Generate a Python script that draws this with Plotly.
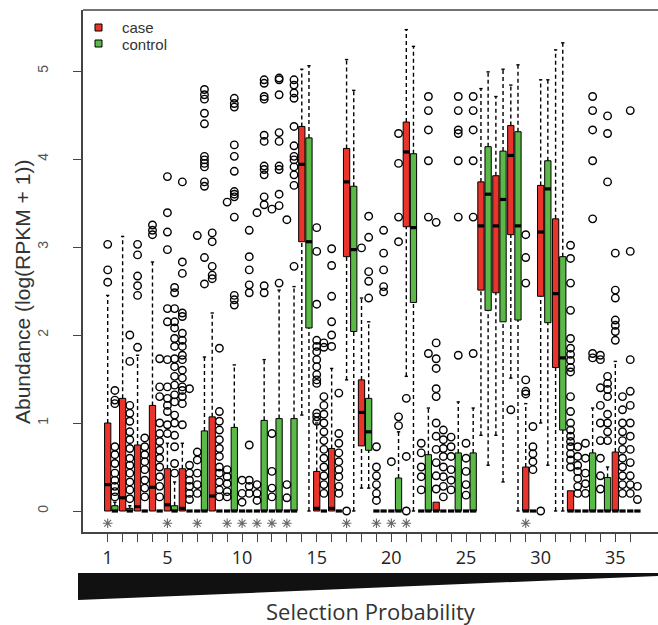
import plotly.graph_objects as go

# ---------------- data ----------------
groups = list(range(1, 37))
tick_labels = {1: "1", 5: "5", 10: "10", 15: "15", 20: "20", 25: "25", 30: "30", 35: "35"}
sig_groups = [1, 5, 7, 9, 10, 11, 12, 13, 17, 19, 20, 21, 29]

case_q1 = [0, 0, 0, 0, 0, 0, 0, 0, 0, 0, 0, 0, 0, 3.06, 0, 0, 2.89, 0.74, 0, 0, 3.23, 0, 0, 0, 0,
           2.51, 2.48, 3.14, 0, 2.44, 1.63, 0, 0, 0, 0, 0]
case_med = [0.30, 0.15, 0.05, 0.27, 0.07, 0.03, 0, 0.17, 0, 0, 0, 0, 0, 3.94, 0.03, 0.03, 3.74, 1.12, 0, 0,
            4.08, 0, 0, 0, 0, 3.24, 3.24, 4.04, 0, 3.17, 2.47, 0, 0, 0, 0, 0]
case_q3 = [1.0, 1.28, 0.75, 1.2, 0.48, 0.48, 0, 1.07, 0, 0, 0, 0, 0, 4.37, 0.45, 0.71, 4.12, 1.49, 0, 0,
           4.42, 0, 0.1, 0, 0, 3.74, 3.81, 4.38, 0.5, 3.7, 3.32, 0.23, 0, 0, 0.67, 0]
case_lo = [0, 0, 0, 0, 0, 0, 0, 0, 0, 0, 0, 0, 0, 1.09, 0, 0, 1.49, 0.26, 0, 0, 1.53, 0, 0, 0, 0,
           0.86, 0.86, 1.51, 0, 1.0, 0, 0, 0, 0, 0, 0]
case_hi = [2.45, 3.12, 1.77, 2.83, 0.77, 0.77, 0, 2.25, 0, 0, 0, 0, 0, 5.02, 1.0, 1.62, 5.13, 2.42, 0, 0,
           5.47, 0, 0.1, 0, 0, 4.8, 4.71, 4.84, 1.22, 4.9, 5.24, 0.23, 0, 0, 1.7, 0]
case_out = [
    [3.03, 2.74, 2.60],
    [],
    [3.03, 2.91, 2.67, 2.56, 2.45, 1.86],
    [3.25, 3.19, 3.14],
    [3.8, 3.39, 3.17, 2.97, 2.3, 2.15, 1.72, 1.41, 1.28, 1.2, 1.13, 0.98, 0.88],
    [3.74, 2.83, 2.7, 2.25, 2.21, 2.02, 1.94, 1.87, 1.77, 1.72, 1.6, 1.51, 1.41, 1.37, 1.3, 1.22, 0.98],
    [3.13, 0.67, 0.58, 0.43, 0.3, 0.2],
    [3.16, 3.06, 2.78, 2.68, 2.64],
    [3.51, 0.47, 0.39, 0.31, 0.22, 0.16],
    [0.35, 0.2, 0.1],
    [3.39, 0.3, 0.2, 0.12],
    [3.43, 0.88, 0.45, 0.26, 0.16],
    [3.31, 0.3, 0.15],
    [],
    [3.22, 2.95, 2.35, 1.94, 1.87, 1.81, 1.72, 1.64, 1.55, 1.49, 1.45, 1.11, 1.07, 1.02],
    [2.98, 2.79, 2.44, 2.15, 2.0, 1.87],
    [0.0],
    [2.99],
    [0.73, 0.5, 0.4, 0.3, 0.2, 0.12],
    [0.56],
    [1.28, 0.62, 0.0],
    [0.77, 0.66, 0.5, 0.39, 0.24],
    [3.28, 1.91, 1.73, 1.62, 1.39, 1.3, 1.0, 0.85, 0.7, 0.55, 0.4, 0.25],
    [0.84, 0.73, 0.62, 0.47, 0.35, 0.24],
    [0.77, 0.6, 0.45, 0.3, 0.18],
    [],
    [],
    [1.15],
    [3.14, 2.88, 2.59, 1.49, 1.36, 1.33],
    [0.0],
    [],
    [3.02, 2.87, 2.59, 2.28, 1.96, 1.85, 1.78, 1.71, 1.63, 1.58, 1.3, 1.13, 1.0, 0.92, 0.85, 0.79,
     0.73, 0.65, 0.58, 0.5],
    [0.77, 0.6, 0.43, 0.31, 0.2],
    [1.77, 1.72, 1.4, 1.2, 1.0, 0.8, 0.6, 0.4, 0.25],
    [2.93, 2.51, 2.42, 2.17, 2.11, 2.04, 1.94],
    [4.55, 2.95, 1.72, 1.36, 1.2, 1.0, 0.85, 0.7, 0.55, 0.4, 0.3, 0.2],
]

ctrl_q1 = [0, 0, 0, 0, 0, 0, 0, 0, 0, 0, 0, 0, 0, 2.08, 0, 0, 2.04, 0.69, 0, 0, 2.37, 0, 0, 0, 0,
           2.28, 2.15, 2.17, 0, 2.14, 0.92, 0, 0, 0, 0, 0]
ctrl_med = [0, 0, 0, 0, 0, 0, 0, 0, 0, 0, 0, 0, 0, 3.06, 0, 0, 2.97, 0.9, 0, 0, 3.22, 0, 0, 0, 0,
            3.6, 3.54, 3.24, 0, 3.66, 1.74, 0, 0, 0, 0, 0]
ctrl_q3 = [0.06, 0.03, 0, 0, 0.06, 0, 0.91, 0, 0.95, 0, 1.03, 1.05, 1.05, 4.24, 0, 0, 3.69, 1.28, 0, 0.375,
           4.06, 0.64, 0, 0.66, 0.66, 4.14, 4.09, 4.31, 0, 3.98, 2.89, 0, 0.66, 0.38, 0, 0]
ctrl_lo = [0, 0, 0, 0, 0, 0, 0, 0, 0, 0, 0, 0, 0, 0, 0, 0, 0, 0.26, 0, 0, 0, 0, 0, 0, 0,
           0.52, 0.33, 0, 0, 0.52, 0, 0, 0, 0, 0, 0]
ctrl_hi = [0.1, 0.06, 0, 0, 0.33, 0, 1.75, 0, 1.66, 0, 1.72, 2.51, 2.55, 5.06, 0, 0, 4.78, 2.15, 0, 0.9,
           5.28, 1.17, 0, 1.24, 1.17, 4.99, 5.02, 5.07, 0, 4.9, 5.32, 0, 1.17, 0.5, 0, 0]
ctrl_out = [
    [1.37, 1.26, 1.22, 0.73, 0.64, 0.54, 0.43, 0.35, 0.28, 0.22, 0.16],
    [2.0, 1.70, 1.2, 1.11, 1.02, 0.9, 0.81, 0.71, 0.6, 0.52, 0.43, 0.33, 0.24, 0.14],
    [0.83, 0.73, 0.64, 0.56, 0.47, 0.35, 0.26, 0.16],
    [1.73, 1.41, 1.3, 1.0, 0.88, 0.79, 0.69, 0.6, 0.5, 0.39, 0.28, 0.16],
    [2.54, 2.48, 2.3, 2.15, 2.08, 1.96, 1.87, 1.73, 1.64, 1.53, 1.43, 1.32, 1.24, 1.09, 1.0, 0.86,
     0.73, 0.54, 0.43],
    [1.39, 0.52, 0.43, 0.35, 0.28, 0.2, 0.13],
    [4.79, 4.73, 4.68, 4.52, 4.4, 4.03, 3.99, 3.95, 3.91, 3.74, 3.69, 2.88, 2.58],
    [1.85, 1.13, 1.02, 0.92, 0.81, 0.71, 0.62, 0.5, 0.43, 0.33, 0.24, 0.16],
    [4.69, 4.63, 4.59, 4.16, 4.03, 3.86, 3.63, 3.6, 3.57, 3.34, 2.45, 2.4, 2.34],
    [3.19, 2.89, 2.74, 2.57, 2.48, 0.75, 0.35, 0.28, 0.2],
    [4.9, 4.86, 4.71, 4.68, 4.27, 4.2, 3.92, 3.88, 3.82, 3.57, 3.48, 2.56, 2.48],
    [4.92, 4.9, 4.73, 4.3, 4.2, 3.92, 3.88, 3.6, 3.47, 2.59],
    [4.9, 4.84, 4.75, 4.69, 4.37, 4.15, 4.03, 3.99, 3.91, 3.82, 3.7, 2.78],
    [],
    [1.91, 1.86, 1.3, 1.2, 1.1, 1.0, 0.9, 0.8, 0.7, 0.6, 0.5, 0.4, 0.3, 0.2],
    [1.34, 0.88, 0.77, 0.66, 0.56, 0.47, 0.39, 0.28, 0.2],
    [],
    [3.35, 3.11, 2.72, 2.61, 2.42],
    [3.19, 2.93, 2.74, 2.55, 2.49],
    [4.29, 3.95, 3.34, 3.06, 1.07, 0.97],
    [],
    [4.71, 4.55, 4.33, 3.98, 3.34, 1.79],
    [0.92, 0.81, 0.71, 0.62, 0.5, 0.39, 0.28, 0.16],
    [4.71, 4.55, 4.33, 4.29, 3.98, 3.34, 1.77],
    [4.71, 4.55, 4.33, 3.98, 3.34, 1.79],
    [],
    [],
    [],
    [0.96, 0.73, 0.65, 0.56, 0.47],
    [],
    [],
    [0.73, 0.62, 0.52, 0.45, 0.37, 0.28, 0.2],
    [4.71, 4.55, 4.33, 3.98, 3.32, 1.79, 1.74],
    [4.49, 4.29, 3.74, 1.53, 1.45, 1.38, 1.3, 1.1, 1.0, 0.9, 0.8],
    [1.3, 1.15, 1.0, 0.9, 0.8, 0.7, 0.6, 0.5, 0.4, 0.3, 0.2],
    [0.28, 0.13],
]

# ---------------- styling ----------------
RED = "#E8342A"
GREEN = "#5BB947"
BOX_W = 0.42
CAP_W = 0.22
CTRL_OFFSET = 0.48
STAR_Y = -0.14

W, H = 658, 625
ML, MR, MT, MB = 83, 0, 10, 93
PW, PH = W - ML - MR, H - MT - MB


def px2paper(px, py):
    return (px - ML) / PW, (H - MB - py) / PH


fig = go.Figure()


def add_series(name, offset, color, q1, med, q3, lo, hi, outs):
    xs = [g + offset for g in groups]
    bx, bbase, bh = [], [], []
    for x, a, b in zip(xs, q1, q3):
        if b > a:
            bx.append(x); bbase.append(a); bh.append(b - a)
    fig.add_trace(go.Bar(x=bx, y=bh, base=bbase, width=BOX_W, marker=dict(color=color, line=dict(color="black", width=1)),
                         showlegend=False, hoverinfo="skip", name=name))
    wx, wy, cx, cy = [], [], [], []
    for x, a, b, l, h in zip(xs, q1, q3, lo, hi):
        if h > b:
            wx += [x, x, None]; wy += [b, h, None]
            cx += [x - CAP_W / 2, x + CAP_W / 2, None]; cy += [h, h, None]
        if l < a:
            wx += [x, x, None]; wy += [l, a, None]
            cx += [x - CAP_W / 2, x + CAP_W / 2, None]; cy += [l, l, None]
    fig.add_trace(go.Scatter(x=wx, y=wy, mode="lines", line=dict(color="black", width=1.4, dash="4px,3px"),
                             showlegend=False, hoverinfo="skip"))
    fig.add_trace(go.Scatter(x=cx, y=cy, mode="lines", line=dict(color="black", width=1.4),
                             showlegend=False, hoverinfo="skip"))
    mx, my = [], []
    for x, m in zip(xs, med):
        mx += [x - BOX_W / 2, x + BOX_W / 2, None]; my += [m, m, None]
    fig.add_trace(go.Scatter(x=mx, y=my, mode="lines", line=dict(color="black", width=3.2),
                             showlegend=False, hoverinfo="skip"))
    ox, oy = [], []
    for x, o in zip(xs, outs):
        ox += [x] * len(o); oy += o
    fig.add_trace(go.Scatter(x=ox, y=oy, mode="markers",
                             marker=dict(symbol="circle-open", size=7.5, color="black", line=dict(width=1.4)),
                             showlegend=False, hoverinfo="skip"))


add_series("case", 0.0, RED, case_q1, case_med, case_q3, case_lo, case_hi, case_out)
add_series("control", CTRL_OFFSET, GREEN, ctrl_q1, ctrl_med, ctrl_q3, ctrl_lo, ctrl_hi, ctrl_out)

fig.add_trace(go.Scatter(x=sig_groups, y=[STAR_Y] * len(sig_groups), mode="markers",
                         marker=dict(symbol="asterisk-open", size=8, color="#666", line=dict(width=1.1, color="#666")),
                         showlegend=False, hoverinfo="skip"))

# ---------------- layout ----------------
x_left = 1 - (107.7 - ML) / 14.93
x_right = 1 + (W - 107.7) / 14.93
y_bottom = (511 - (H - MB)) / 88
y_top = (511 - MT) / 88

fig.update_layout(
    width=W, height=H, margin=dict(l=ML, r=MR, t=MT, b=MB),
    plot_bgcolor="white", paper_bgcolor="white", barmode="overlay", showlegend=False,
    font=dict(family="Liberation Sans, Arial, sans-serif"),
    xaxis=dict(range=[x_left, x_right], tickvals=groups, ticktext=[tick_labels.get(g, "") for g in groups],
               ticks="outside", ticklen=8, tickwidth=1.2, tickcolor="#444", showline=True, linecolor="#444",
               linewidth=1.5, showgrid=False, zeroline=False, ticklabelstandoff=1,
               tickfont=dict(family="Open Sans, sans-serif", size=18, color="#222")),
    yaxis=dict(range=[y_bottom, y_top], tickvals=[0, 1, 2, 3, 4, 5], ticks="outside", ticklen=8, tickwidth=1.2,
               tickcolor="#444", showline=True, linecolor="#444", linewidth=1.5, showgrid=False, zeroline=False,
               tickangle=-90, ticklabelstandoff=20, tickfont=dict(size=14, color="#555")),
)

# top frame line
fig.add_shape(type="line", xref="paper", yref="paper", x0=0, x1=1, y0=1, y1=1, line=dict(color="#444", width=1.5))

# wedge under axis
p1 = px2paper(78, 573); p2 = px2paper(W, 573); p3 = px2paper(W, 576); p4 = px2paper(78, 600)
fig.add_shape(type="path", xref="paper", yref="paper",
              path=f"M {p1[0]} {p1[1]} L {p2[0]} {p2[1]} L {p3[0]} {p3[1]} L {p4[0]} {p4[1]} Z",
              fillcolor="#111", line=dict(width=0))

# legend
for (ytop, col, label) in [(24, RED, "case"), (40, GREEN, "control")]:
    a = px2paper(95, ytop + 7); b = px2paper(102, ytop)
    fig.add_shape(type="rect", xref="paper", yref="paper", x0=a[0], y0=a[1], x1=b[0], y1=b[1],
                  fillcolor=col, line=dict(color="black", width=1))
    t = px2paper(120, ytop + 4)
    fig.add_annotation(xref="paper", yref="paper", x=t[0], y=t[1], text=label, showarrow=False,
                       xanchor="left", yanchor="middle", font=dict(size=15, color="#333"))

# axis titles
yt = px2paper(22, 292)
fig.add_annotation(xref="paper", yref="paper", x=yt[0], y=yt[1], text="Abundance (log(RPKM + 1))",
                   textangle=-90, showarrow=False, xanchor="center", yanchor="middle",
                   font=dict(size=21, color="#333"))
xt = px2paper(371, 611)
fig.add_annotation(xref="paper", yref="paper", x=xt[0], y=xt[1], text="Selection Probability",
                   showarrow=False, xanchor="center", yanchor="middle",
                   font=dict(family="Open Sans, sans-serif", size=22, color="#333"))

fig.write_html("out.html")
